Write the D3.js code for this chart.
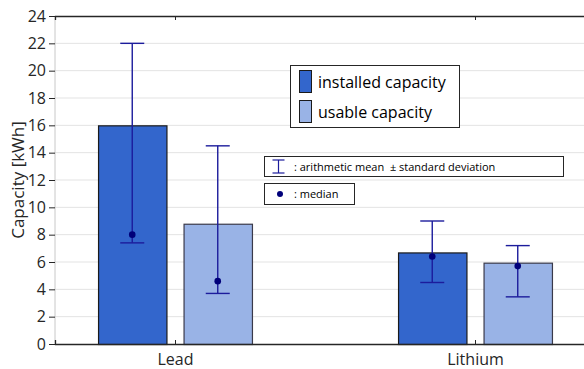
<!DOCTYPE html>
<html>
<head>
<meta charset="utf-8">
<script src="https://cdn.jsdelivr.net/npm/d3@7"></script>
<style>
  body { margin: 0; background: #fff; }
  svg { display: block; }
  text { font-family: "Open Sans", "Noto Sans", sans-serif; }
</style>
</head>
<body>
<script>
// chart values
const categories = ['Lead', 'Lithium'];
const seriesNames = ['installed capacity', 'usable capacity'];
const barValues = [[16.0, 8.8], [6.7, 5.95]];      // [category][series]
const errLow = [[7.4, 3.7], [4.5, 3.45]];
const errHigh = [[22.0, 14.5], [9.0, 7.2]];
const medians = [[8.0, 4.6], [6.4, 5.7]];
const yTicks = [0, 2, 4, 6, 8, 10, 12, 14, 16, 18, 20, 22, 24];

const W = 584, H = 369;
const m = {top: 16, right: -11, bottom: 25, left: 55};
const colors = ['#3366cc', '#99b3e6'];

const svg = d3.select(document.body).append('svg')
  .attr('width', W).attr('height', H);

// x as numeric positions 1..n like the original tool
const x = d3.scaleLinear().domain([0.6, 2.4]).range([m.left, W - m.right]);
const y = d3.scaleLinear().domain([0, 24]).range([H - m.bottom, m.top]);

const offset = 0.1425, barW = 0.228;

// grid
svg.append('g').selectAll('line').data(yTicks.slice(1, -1)).join('line')
  .attr('x1', m.left).attr('x2', W)
  .attr('y1', d => y(d)).attr('y2', d => y(d))
  .attr('stroke', '#e3e3e3').attr('stroke-width', 1);

// left axis line (light)
svg.append('line').attr('x1', m.left).attr('x2', m.left)
  .attr('y1', y(0)).attr('y2', y(24)).attr('stroke', '#c8c8c8');

// y axis
const yAxis = d3.axisLeft(y).tickValues(yTicks).tickSize(6).tickPadding(3);
const gy = svg.append('g').attr('transform', `translate(${m.left},0)`).call(yAxis);
gy.select('.domain').remove();
gy.selectAll('line').attr('stroke', '#262626');
gy.selectAll('text').attr('font-size', 16).attr('fill', '#262626');

// bars
categories.forEach((c, i) => {
  seriesNames.forEach((s, j) => {
    const cx = i + 1 + (j === 0 ? -offset : offset);
    svg.append('rect')
      .attr('x', x(cx - barW / 2) + 0.5)
      .attr('y', y(barValues[i][j]) + 0.5)
      .attr('width', x(cx + barW / 2) - x(cx - barW / 2))
      .attr('height', y(0) - y(barValues[i][j]))
      .attr('fill', colors[j])
      .attr('stroke', j === 0 ? '#1a1a1a' : '#3a3a4a')
      .attr('stroke-width', 1.2);
  });
});

// top / bottom axes (box lines)
const xTop = d3.axisTop(x).tickValues([1, 2]).tickSize(-4).tickFormat('');
const gTop = svg.append('g').attr('transform', `translate(0,${m.top})`).call(xTop);
gTop.select('.domain').attr('stroke', '#262626').attr('stroke-width', 1.3);
gTop.selectAll('line').attr('stroke', '#262626');

const xBot = d3.axisBottom(x).tickValues([1, 2]).tickSize(-4).tickPadding(10)
  .tickFormat(d => categories[d - 1]);
const gBot = svg.append('g').attr('transform', `translate(0,${y(0)})`).call(xBot);
gBot.select('.domain').attr('stroke', '#262626').attr('stroke-width', 1.3);
gBot.selectAll('line').attr('stroke', '#262626');
gBot.selectAll('text').attr('font-size', 16).attr('fill', '#262626');

// error bars + medians
const errColor = '#1c1c9c', capW = 12;
categories.forEach((c, i) => {
  seriesNames.forEach((s, j) => {
    const cx = x(i + 1 + (j === 0 ? -offset : offset));
    const g = svg.append('g').attr('stroke', errColor).attr('stroke-width', 1.4);
    g.append('line').attr('x1', cx).attr('x2', cx)
      .attr('y1', y(errLow[i][j])).attr('y2', y(errHigh[i][j]));
    [errLow[i][j], errHigh[i][j]].forEach(v => {
      g.append('line').attr('x1', cx - capW).attr('x2', cx + capW)
        .attr('y1', y(v)).attr('y2', y(v));
    });
    svg.append('circle').attr('cx', cx).attr('cy', y(medians[i][j]))
      .attr('r', 3.3).attr('fill', '#00007a');
  });
});

// series legend
const lg = svg.append('g');
lg.append('rect').attr('x', 290.5).attr('y', 65.5).attr('width', 169).attr('height', 62)
  .attr('fill', '#fff').attr('stroke', '#262626');
seriesNames.forEach((s, j) => {
  lg.append('rect').attr('x', 299.5).attr('y', 70.5 + j * 30).attr('width', 12).attr('height', 22)
    .attr('fill', colors[j]).attr('stroke', '#1a1a1a');
  lg.append('text').attr('x', 318).attr('y', 88 + j * 30)
    .attr('font-size', 16).attr('fill', '#000').text(s);
});

// error bar legend
const eg = svg.append('g');
eg.append('rect').attr('x', 264.5).attr('y', 156.5).attr('width', 299).attr('height', 20)
  .attr('fill', '#fff').attr('stroke', '#262626');
const ix = 278.5;
eg.append('line').attr('x1', ix).attr('x2', ix).attr('y1', 160).attr('y2', 173)
  .attr('stroke', errColor).attr('stroke-width', 1.2);
[160, 173].forEach(yy => eg.append('line').attr('x1', ix - 6).attr('x2', ix + 6)
  .attr('y1', yy).attr('y2', yy).attr('stroke', errColor).attr('stroke-width', 1.2));
eg.append('text').attr('x', 294).attr('y', 170.5)
  .attr('font-family', '"Liberation Sans", Arial, sans-serif')
  .attr('font-size', 11).attr('fill', '#000')
  .text(':\u00a0arithmetic mean\u00a0\u00a0\u00b1\u00a0standard deviation');

// median legend
eg.append('rect').attr('x', 264.5).attr('y', 183.5).attr('width', 90).attr('height', 21)
  .attr('fill', '#fff').attr('stroke', '#262626');
eg.append('circle').attr('cx', 280).attr('cy', 194).attr('r', 3).attr('fill', '#00007a');
eg.append('text').attr('x', 294).attr('y', 198)
  .attr('font-family', '"Liberation Sans", Arial, sans-serif')
  .attr('font-size', 11).attr('fill', '#000').text(':\u00a0median');

// y label
svg.append('text')
  .attr('transform', `translate(24,${(y(0) + y(24)) / 2}) rotate(-90)`)
  .attr('text-anchor', 'middle').attr('font-size', 17).attr('fill', '#262626')
  .text('Capacity [kWh]');
</script>
</body>
</html>
